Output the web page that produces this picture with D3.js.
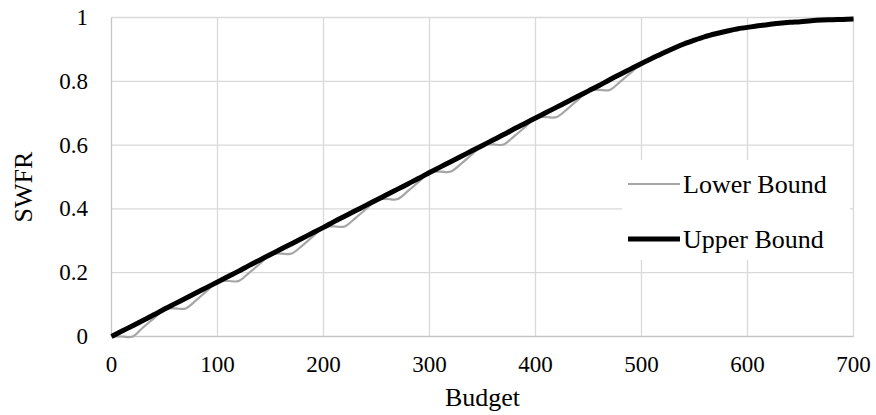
<!DOCTYPE html>
<html><head><meta charset="utf-8">
<script src="https://cdn.jsdelivr.net/npm/d3@7"></script>
<style>body{margin:0;background:#fff}svg{display:block}</style>
</head><body><svg id="c" width="876" height="415"></svg>
<script>
const budget = [0,10,20,30,40,50,60,70,80,90,100,110,120,130,140,150,160,170,180,190,200,210,220,230,240,250,260,270,280,290,300,310,320,330,340,350,360,370,380,390,400,410,420,430,440,450,460,470,480,490,500,510,520,530,540,550,560,570,580,590,600,610,620,630,640,650,660,670,680,690,700];
const upperBound = [0,0.017,0.034,0.051,0.068,0.086,0.103,0.120,0.137,0.154,0.171,0.188,0.205,0.223,0.240,0.257,0.274,0.291,0.308,0.325,0.342,0.360,0.377,0.394,0.411,0.428,0.445,0.462,0.479,0.496,0.514,0.531,0.548,0.565,0.582,0.599,0.616,0.633,0.651,0.668,0.685,0.702,0.719,0.736,0.753,0.770,0.787,0.805,0.822,0.839,0.856,0.872,0.888,0.903,0.917,0.929,0.940,0.949,0.957,0.964,0.969,0.974,0.978,0.982,0.985,0.987,0.990,0.992,0.993,0.994,0.995];
const lowerBound = [0,0,0,0.029,0.057,0.086,0.088,0.088,0.114,0.143,0.171,0.174,0.174,0.200,0.228,0.257,0.260,0.260,0.285,0.314,0.342,0.345,0.345,0.371,0.399,0.428,0.431,0.431,0.457,0.485,0.514,0.517,0.517,0.542,0.571,0.599,0.602,0.602,0.628,0.656,0.685,0.688,0.688,0.713,0.742,0.770,0.773,0.773,0.799,0.827,0.856,0.872,0.888,0.903,0.917,0.929,0.940,0.949,0.957,0.964,0.969,0.974,0.978,0.982,0.985,0.987,0.990,0.992,0.993,0.994,0.995];
const xTicks = [0,100,200,300,400,500,600,700];
const yTicks = [0,0.2,0.4,0.6,0.8,1];
const yTickLabels = ["0","0.2","0.4","0.6","0.8","1"];
const seriesNames = ["Lower Bound","Upper Bound"];

const FONT = "Liberation Serif, DejaVu Serif, Noto Serif, Times New Roman, serif";
const svg = d3.select("#c");
const L = 111.5, R = 853.5, T = 17.5, B = 336.5;
const x = d3.scaleLinear().domain([0,700]).range([L,R]);
const y = d3.scaleLinear().domain([0,1]).range([B,T]);

const g = svg.append("g");
g.selectAll(".vg").data(xTicks.slice(1)).join("line")
  .attr("x1",d=>x(d)).attr("x2",d=>x(d)).attr("y1",T).attr("y2",B)
  .attr("stroke","#d9d9d9").attr("stroke-width",1.3);
g.selectAll(".hg").data(yTicks.slice(1)).join("line")
  .attr("x1",L).attr("x2",R).attr("y1",d=>y(d)).attr("y2",d=>y(d))
  .attr("stroke","#d9d9d9").attr("stroke-width",1.3);
svg.append("line").attr("x1",L).attr("x2",L).attr("y1",T).attr("y2",B).attr("stroke","#c6c6c6").attr("stroke-width",1.3);
svg.append("line").attr("x1",L).attr("x2",R).attr("y1",B).attr("y2",B).attr("stroke","#c6c6c6").attr("stroke-width",1.3);

svg.selectAll(".xt").data(xTicks).join("text")
  .attr("x",d=>x(d)).attr("y",372).attr("text-anchor","middle")
  .style("font-family",FONT).style("font-size","23px").text(d=>d);
svg.selectAll(".yt").data(yTicks).join("text")
  .attr("x",88).attr("y",d=>y(d)+7.5).attr("text-anchor","end")
  .style("font-family",FONT).style("font-size","23px").text((d,i)=>yTickLabels[i]);
svg.append("text").attr("x",(L+R)/2).attr("y",406).attr("text-anchor","middle").style("font-family",FONT).style("font-size","26px").text("Budget");
svg.append("text").attr("transform","translate(32,187) rotate(-90)").attr("text-anchor","middle").style("font-family",FONT).style("font-size","26px").text("SWFR");

const line = (vals)=>d3.line().x((d,i)=>x(budget[i])).y(d=>y(d)).curve(d3.curveCatmullRom.alpha(0))(vals);
svg.append("path").attr("d",line(lowerBound)).attr("fill","none").attr("stroke","#a6a6a6").attr("stroke-width",2.2);
svg.append("path").attr("d",line(upperBound)).attr("fill","none").attr("stroke","#000").attr("stroke-width",5);

const lg = svg.append("g");
lg.append("rect").attr("x",622).attr("y",160).attr("width",228).attr("height",100).attr("fill","#fff");
const ly = [184, 239];
lg.selectAll(".ll").data(seriesNames).join("line")
  .attr("x1",628).attr("x2",680).attr("y1",(d,i)=>ly[i]).attr("y2",(d,i)=>ly[i])
  .attr("stroke",(d,i)=>i?"#000":"#a6a6a6").attr("stroke-width",(d,i)=>i?5:2.2);
lg.selectAll(".lt").data(seriesNames).join("text")
  .attr("x",683).attr("y",(d,i)=>ly[i]+8.5).style("font-family",FONT).style("font-size","26px").text(d=>d);
</script></body></html>
